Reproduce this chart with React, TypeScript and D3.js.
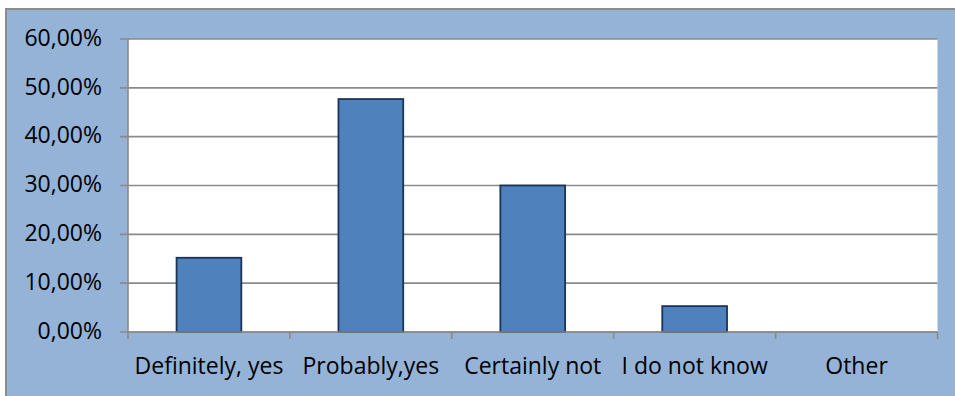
import React from "react";
import * as d3 from "d3";

// Survey answers and their shares
const categories = ["Definitely, yes", "Probably,yes", "Certainly not", "I do not know", "Other"];
const shares = [0.152, 0.477, 0.3, 0.053, 0];
const yTicks = [0, 0.1, 0.2, 0.3, 0.4, 0.5, 0.6];

const W = 955;
const H = 396;
const plot = { left: 128, right: 937.5, top: 39, bottom: 332 };

const fmt = d3
  .formatLocale({ decimal: ",", thousands: ".", grouping: [3], currency: ["", "€"] })
  .format(".2%");

const FONT = "'Open Sans', 'Liberation Sans', Arial, sans-serif";

export default function App() {
  const x = d3
    .scaleBand<string>()
    .domain(categories)
    .range([plot.left, plot.right])
    .paddingInner(0.6)
    .paddingOuter(0.3);
  const y = d3.scaleLinear().domain([0, 0.6]).range([plot.bottom, plot.top]);
  const bounds = d3.scaleLinear().domain([0, categories.length]).range([plot.left, plot.right]);
  const grid = "#8a8a8a";

  return (
    <svg
      width={W}
      height={H}
      style={{ position: "absolute", left: 0, top: 0 }}
      fontFamily={FONT}
    >
      {/* chart area */}
      <rect x={6} y={9} width={W} height={H} fill="#95B3D7" stroke="#8c8c8c" strokeWidth={2} />
      {/* plot area */}
      <rect
        x={plot.left}
        y={plot.top}
        width={plot.right - plot.left}
        height={plot.bottom - plot.top}
        fill="#ffffff"
      />
      {/* gridlines and y ticks */}
      {yTicks.map((t) => (
        <g key={t}>
          <line
            x1={plot.left - 8}
            x2={plot.right}
            y1={y(t)}
            y2={y(t)}
            stroke={grid}
            strokeWidth={1.6}
          />
          <text
            x={102}
            y={y(t)}
            dy="0.29em"
            textAnchor="end"
            fontSize={23}
            fill="#000"
          >
            {fmt(t)}
          </text>
        </g>
      ))}
      {/* y axis */}
      <line x1={plot.left} x2={plot.left} y1={plot.top} y2={plot.bottom} stroke={grid} strokeWidth={1.6} />
      {/* bars */}
      {categories.map((c, i) =>
        shares[i] > 0 ? (
          <rect
            key={c}
            x={x(c)}
            y={y(shares[i])}
            width={x.bandwidth()}
            height={y(0) - y(shares[i])}
            fill="#4F81BD"
            stroke="#1b3457"
            strokeWidth={1.8}
          />
        ) : null
      )}
      {/* x axis */}
      <line x1={plot.left} x2={plot.right} y1={plot.bottom} y2={plot.bottom} stroke={grid} strokeWidth={1.6} />
      {d3.range(categories.length + 1).map((i) => (
        <line
          key={i}
          x1={bounds(i)}
          x2={bounds(i)}
          y1={plot.bottom}
          y2={plot.bottom + 7}
          stroke={grid}
          strokeWidth={1.6}
        />
      ))}
      {categories.map((c) => (
        <text
          key={c}
          x={(x(c) ?? 0) + x.bandwidth() / 2}
          y={374}
          textAnchor="middle"
          fontSize={23}
          fill="#000"
        >
          {c}
        </text>
      ))}
    </svg>
  );
}
